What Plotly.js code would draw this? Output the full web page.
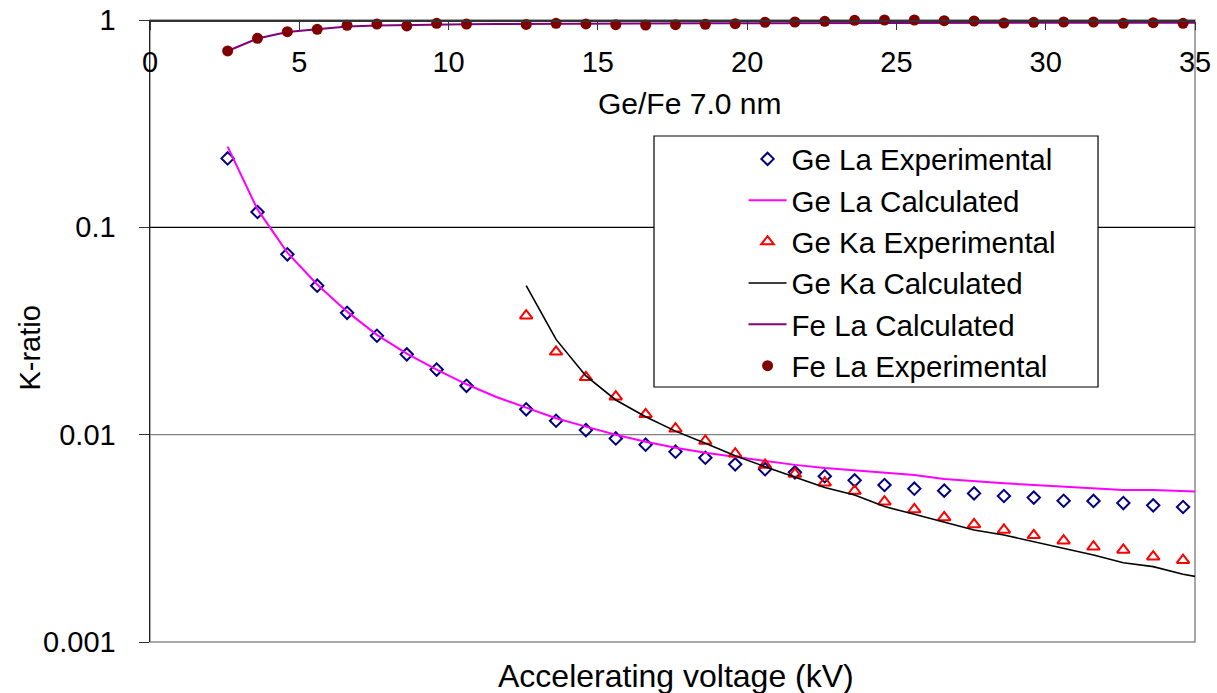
<!DOCTYPE html>
<html>
<head>
<meta charset="utf-8">
<script src="https://cdn.plot.ly/plotly-3.0.1.min.js"></script>
<style>
  html, body { margin: 0; padding: 0; background: #fff; }
  #chart { width: 1217px; height: 693px; }
</style>
</head>
<body>
<div id="chart"></div>
<script>
// Accelerating voltage (kV) for the measured points (no point at 11.6 kV)
const expVoltage = [2.6, 3.6, 4.6, 5.6, 6.6, 7.6, 8.6, 9.6, 10.6,
  12.6, 13.6, 14.6, 15.6, 16.6, 17.6, 18.6, 19.6, 20.6, 21.6, 22.6, 23.6,
  24.6, 25.6, 26.6, 27.6, 28.6, 29.6, 30.6, 31.6, 32.6, 33.6, 34.6];
// Ge Ka is only excited from 12.6 kV upwards
const kaVoltage = [12.6, 13.6, 14.6, 15.6, 16.6, 17.6, 18.6, 19.6, 20.6, 21.6,
  22.6, 23.6, 24.6, 25.6, 26.6, 27.6, 28.6, 29.6, 30.6, 31.6, 32.6, 33.6, 34.6];
// Voltages of the calculated curves
const calcVoltage = [2.6, 3.6, 4.6, 5.6, 6.6, 7.6, 8.6, 9.6, 10.6, 11.6,
  12.6, 13.6, 14.6, 15.6, 16.6, 17.6, 18.6, 19.6, 20.6, 21.6, 22.6, 23.6,
  24.6, 25.6, 26.6, 27.6, 28.6, 29.6, 30.6, 31.6, 32.6, 33.6, 34.6, 35.2];
const kaCalcVoltage = [12.6, 13.6, 14.6, 15.6, 16.6, 17.6, 18.6, 19.6, 20.6, 21.6,
  22.6, 23.6, 24.6, 25.6, 26.6, 27.6, 28.6, 29.6, 30.6, 31.6, 32.6, 33.6, 34.6, 35.2];

// K-ratios
const geLaExperimental = [0.215, 0.1186, 0.0741, 0.0523, 0.0387, 0.0300, 0.0244, 0.0206, 0.0172,
  0.01325, 0.01167, 0.01052, 0.00959, 0.00895, 0.00828, 0.00774, 0.00719, 0.00681, 0.00658,
  0.00630, 0.00602, 0.00572, 0.00549, 0.00537, 0.00521, 0.00506, 0.00497, 0.00480, 0.00479,
  0.00468, 0.00456, 0.00448];
const geLaCalculated = [0.245, 0.122, 0.0755, 0.053, 0.0392, 0.0303, 0.0246, 0.0206, 0.0175, 0.0152,
  0.0135, 0.0120, 0.01093, 0.0100, 0.00925, 0.00865, 0.00818, 0.00780, 0.00745, 0.00715,
  0.00690, 0.00673, 0.00655, 0.00639, 0.00612, 0.00595, 0.00583, 0.00572, 0.00561, 0.00551,
  0.00541, 0.00541, 0.00533, 0.00531];
const geKaExperimental = [0.0375, 0.0251, 0.0189, 0.01524, 0.01254, 0.01068, 0.00932, 0.00809,
  0.00714, 0.00646, 0.00587, 0.00535, 0.00475, 0.00436, 0.00399, 0.00369, 0.00347, 0.00327,
  0.00308, 0.00288, 0.00278, 0.00258, 0.00248];
const geKaCalculated = [0.0523, 0.0288, 0.0192, 0.0147, 0.0122, 0.0104, 0.00908, 0.00792, 0.00701,
  0.00627, 0.00556, 0.00512, 0.0045, 0.00413, 0.0038, 0.00347, 0.00328, 0.00305, 0.00283,
  0.00263, 0.00241, 0.00231, 0.00212, 0.00205];
const feLaCalculated = [0.709, 0.815, 0.875, 0.905, 0.93, 0.94, 0.947, 0.952, 0.955, 0.957,
  0.959, 0.96, 0.961, 0.962, 0.963, 0.964, 0.964, 0.965, 0.966, 0.966, 0.967, 0.967,
  0.968, 0.968, 0.969, 0.969, 0.97, 0.97, 0.97, 0.971, 0.971, 0.971, 0.971, 0.971];
const feLaExperimental = [0.709, 0.816, 0.878, 0.902, 0.943, 0.956, 0.936, 0.964, 0.956,
  0.952, 0.964, 0.957, 0.949, 0.946, 0.949, 0.953, 0.960, 0.975, 0.978, 0.986, 0.997,
  1.0, 1.0, 0.992, 0.989, 0.967, 0.975, 0.978, 0.978, 0.964, 0.971, 0.964];

const yTickVals = [0.001, 0.01, 0.1, 1];
const yTickText = ['0.001', '0.01', '0.1', '1'];
const xTickVals = [0, 5, 10, 15, 20, 25, 30, 35];
const xTickText = ['0', '5', '10', '15', '20', '25', '30', '35'];

const FONT = 'Arial, "Liberation Sans", sans-serif';

const traces = [
  { name: 'Ge La Experimental', x: expVoltage, y: geLaExperimental, mode: 'markers', type: 'scatter',
    marker: { symbol: 'diamond-open', size: 9.5, color: '#000080', line: { width: 2, color: '#000080' } } },
  { name: 'Ge La Calculated', x: calcVoltage, y: geLaCalculated, mode: 'lines', type: 'scatter',
    line: { color: '#FF00FF', width: 2 } },
  { name: 'Ge Ka Experimental', x: kaVoltage, y: geKaExperimental, mode: 'markers', type: 'scatter',
    marker: { symbol: 'triangle-up-open', size: 11, color: '#FF0000', line: { width: 2, color: '#FF0000' } } },
  { name: 'Ge Ka Calculated', x: kaCalcVoltage, y: geKaCalculated, mode: 'lines', type: 'scatter',
    line: { color: '#000000', width: 1.6 } },
  { name: 'Fe La Calculated', x: calcVoltage, y: feLaCalculated, mode: 'lines', type: 'scatter',
    line: { color: '#800080', width: 2 } },
  { name: 'Fe La Experimental', x: expVoltage, y: feLaExperimental, mode: 'markers', type: 'scatter',
    cliponaxis: false,
    marker: { symbol: 'circle', size: 11, color: '#800000' } }
];

const layout = {
  width: 1217,
  height: 693,
  margin: { l: 150, r: 22, t: 20, b: 51 },
  paper_bgcolor: '#ffffff',
  plot_bgcolor: '#ffffff',
  font: { family: FONT, color: '#000000', size: 29 },
  showlegend: true,
  legend: {
    x: 0.568, y: 0.818, xanchor: 'left', yanchor: 'top',
    bgcolor: 'rgba(0,0,0,0)', borderwidth: 0,
    font: { family: FONT, size: 29.5, color: '#000000' },
    itemwidth: 38
  },
  xaxis: {
    range: [0, 35],
    tickvals: xTickVals,
    ticktext: xTickText,
    anchor: 'free', position: 1, side: 'bottom',
    ticks: 'outside', ticklen: 8, tickcolor: '#333333', tickwidth: 1,
    ticklabelstandoff: 8,
    showline: true, linecolor: '#333333', linewidth: 1.5,
    showgrid: false, zeroline: false,
    tickfont: { family: FONT, size: 29, color: '#000000' }
  },
  yaxis: {
    type: 'log',
    range: [-3, 0],
    tickvals: yTickVals,
    ticktext: yTickText,
    ticks: 'outside', ticklen: 10, tickcolor: '#333333', tickwidth: 1,
    ticklabelstandoff: 17,
    showline: true, linecolor: '#222222', linewidth: 1.5,
    showgrid: false, zeroline: false,
    tickfont: { family: FONT, size: 29, color: '#000000' }
  },
  shapes: [
    // frame of the plotting area (right and bottom edges are grey)
    { type: 'rect', xref: 'x domain', yref: 'y domain', x0: 0, x1: 1, y0: 0, y1: 1,
      line: { color: '#8c8c8c', width: 1.5 }, layer: 'below' },
    // horizontal gridlines at 0.1 and 0.01
    { type: 'line', xref: 'x domain', yref: 'y domain', x0: 0, x1: 1, y0: 2 / 3, y1: 2 / 3,
      line: { color: '#000000', width: 1.2 }, layer: 'below' },
    { type: 'line', xref: 'x domain', yref: 'y domain', x0: 0, x1: 1, y0: 1 / 3, y1: 1 / 3,
      line: { color: '#808080', width: 1.2 }, layer: 'below' },
    // legend frame
    { type: 'rect', xref: 'paper', yref: 'paper', x0: 0.4823, x1: 0.9072, y0: 0.41, y1: 0.8135,
      line: { color: '#000000', width: 1.2 }, fillcolor: '#ffffff', layer: 'below' }
  ],
  annotations: [
    { text: 'Ge/Fe 7.0 nm', xref: 'paper', yref: 'paper', x: 0.516, y: 0.865,
      xanchor: 'center', yanchor: 'middle', showarrow: false,
      font: { family: FONT, size: 30, color: '#000000' } },
    { text: 'Accelerating voltage (kV)', xref: 'paper', yref: 'paper', x: 0.503, y: -0.054,
      xanchor: 'center', yanchor: 'middle', showarrow: false,
      font: { family: FONT, size: 32, color: '#000000' } },
    { text: 'K-ratio', xref: 'paper', yref: 'paper', x: -0.115, y: 0.473,
      xanchor: 'center', yanchor: 'middle', showarrow: false, textangle: -90,
      font: { family: FONT, size: 29, color: '#000000' } }
  ]
};

Plotly.newPlot('chart', traces, layout, { displayModeBar: false, staticPlot: true });
</script>
</body>
</html>
